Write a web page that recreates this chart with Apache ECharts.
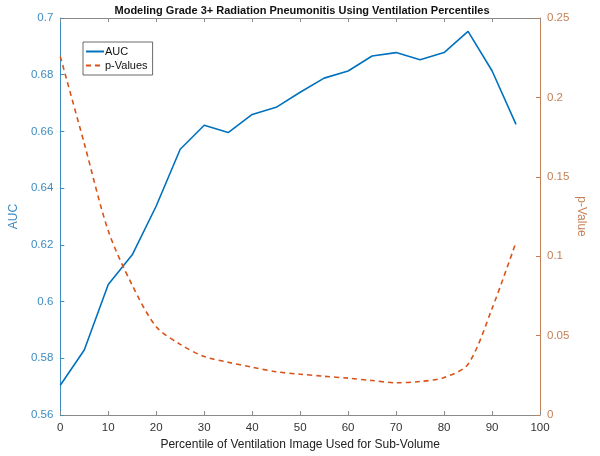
<!DOCTYPE html>
<html>
<head>
<meta charset="utf-8">
<script src="https://cdn.jsdelivr.net/npm/echarts@6/dist/echarts.min.js"></script>
<style>html,body{margin:0;padding:0;background:#fff;}#c{width:600px;height:456px;}</style>
</head>
<body>
<div id="c"></div>
<script>
var percentiles = [0,5,10,15,20,25,30,35,40,45,50,55,60,65,70,75,80,85,90,95];
var aucValues = [0.5705,0.5829,0.6060,0.6165,0.6337,0.6537,0.6622,0.6596,0.6660,0.6685,0.6738,0.6788,0.6813,0.6866,0.6878,0.6853,0.6878,0.6953,0.6814,0.6625];
var pValues = [0.2258,0.1710,0.1160,0.0817,0.0556,0.0445,0.0368,0.0332,0.0301,0.0272,0.0257,0.0244,0.0232,0.0217,0.0203,0.0211,0.0236,0.0320,0.0670,0.1088];
var xTicks = [0,10,20,30,40,50,60,70,80,90,100];
var leftTicks = [0.56,0.58,0.6,0.62,0.64,0.66,0.68,0.7];
var rightTicks = [0,0.05,0.1,0.15,0.2,0.25];

var FONT = '"Liberation Sans", Arial, sans-serif';
var blue = '#0072BD', blueTxt = '#3d8cc2';
var orange = '#D95319', orangeTxt = '#c47f55';
var grayAxis = '#8a8a8a';

function fmt(v){ return String(parseFloat(v.toFixed(3))); }

var chart = echarts.init(document.getElementById('c'), null, {renderer:'canvas'});
chart.setOption({
  animation: false,
  backgroundColor: '#fff',
  title: {
    text: 'Modeling Grade 3+ Radiation Pneumonitis Using Ventilation Percentiles',
    left: 297, top: 0, textAlign: 'center',
    textStyle: {fontFamily: FONT, fontSize: 11, fontWeight: 'bold', color: '#111'}
  },
  legend: {
    orient: 'vertical', left: 83, top: 42,
    padding: [4, 5, 4, 2], itemGap: 3, itemWidth: 18, itemHeight: 10,
    borderColor: '#444', borderWidth: 0.8, borderRadius: 0,
    itemStyle: {opacity: 0},
    textStyle: {fontFamily: FONT, fontSize: 11, color: '#111', padding: [0,0,0,-4]},
    data: ['AUC', 'p-Values']
  },
  grid: {left: 54.5, right: 60, top: 18, bottom: 39, containLabel: false},
  xAxis: [{
    type: 'value', min: 0, max: 100, interval: 10, position: 'bottom',
    name: 'Percentile of Ventilation Image Used for Sub-Volume',
    nameLocation: 'middle', nameGap: 24,
    nameTextStyle: {fontFamily: FONT, fontSize: 12, color: '#222'},
    axisLine: {show: true, onZero: false, lineStyle: {color: grayAxis, width: 1}},
    axisTick: {show: true, inside: true, length: 4, lineStyle: {color: grayAxis}},
    axisLabel: {fontFamily: FONT, fontSize: 11.5, color: '#333', margin: 7,
      formatter: function(v){ return xTicks.indexOf(v) >= 0 ? String(v) : ''; }},
    splitLine: {show: false}
  }, {
    type: 'value', min: 0, max: 100, interval: 10, position: 'top',
    axisLine: {show: true, onZero: false, lineStyle: {color: grayAxis, width: 1}},
    axisTick: {show: true, inside: true, length: 4, lineStyle: {color: grayAxis}},
    axisLabel: {show: false}, splitLine: {show: false}
  }],
  yAxis: [{
    type: 'value', min: 0.56, max: 0.7, interval: 0.02, position: 'left',
    name: 'AUC', nameLocation: 'middle', nameGap: 36, nameRotate: 90,
    nameTextStyle: {fontFamily: FONT, fontSize: 12, color: blueTxt},
    axisLine: {show: true, onZero: false, lineStyle: {color: blueTxt, width: 1}},
    axisTick: {show: true, inside: true, length: 4, lineStyle: {color: blueTxt}},
    axisLabel: {fontFamily: FONT, fontSize: 11.5, color: blueTxt, margin: 7,
      formatter: function(v){ return fmt(v); }},
    splitLine: {show: false}
  }, {
    type: 'value', min: 0, max: 0.25, interval: 0.05, position: 'right',
    name: 'p-Value', nameLocation: 'middle', nameGap: 35, nameRotate: -90,
    nameMoveOverlap: false,
    nameTextStyle: {fontFamily: FONT, fontSize: 12, color: orangeTxt},
    axisLine: {show: true, onZero: false, lineStyle: {color: orangeTxt, width: 1}},
    axisTick: {show: true, inside: true, length: 4, lineStyle: {color: orangeTxt}},
    axisLabel: {fontFamily: FONT, fontSize: 11.5, color: orangeTxt, margin: 7,
      formatter: function(v){ return fmt(v); }},
    splitLine: {show: false}
  }],
  series: [{
    name: 'AUC', type: 'line', xAxisIndex: 0, yAxisIndex: 0,
    data: percentiles.map(function(p,i){ return [p, aucValues[i]]; }),
    symbol: 'none', lineStyle: {color: blue, width: 1.6}, itemStyle: {color: blue}
  }, {
    name: 'p-Values', type: 'line', xAxisIndex: 0, yAxisIndex: 1, smooth: 0.3,
    data: percentiles.map(function(p,i){ return [p, pValues[i]]; }),
    symbol: 'none', lineStyle: {color: orange, width: 1.6, type: [5, 4]}, itemStyle: {color: orange}
  }]
});
</script>
</body>
</html>
